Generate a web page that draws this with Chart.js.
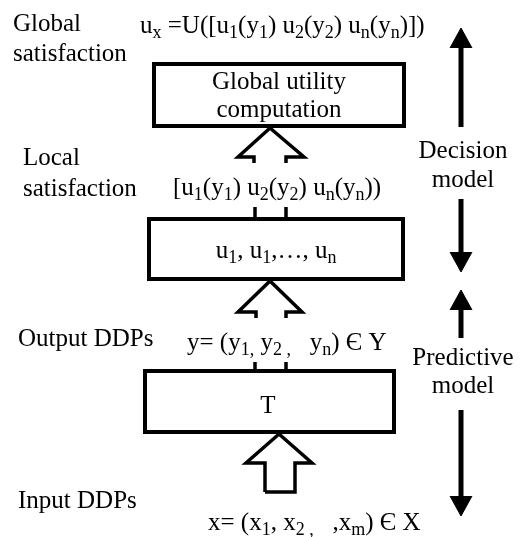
<!DOCTYPE html>
<html>
<head>
<meta charset="utf-8">
<script src="https://cdn.jsdelivr.net/npm/chart.js@4"></script>
<style>
  body { margin: 0; background: #fff; font-family: "Liberation Serif", "Times New Roman", serif; }
  canvas { display: block; }
</style>
</head>
<body>
<canvas id="diagram" width="520" height="537"></canvas>
<script>
// boxes: left, top, right, bottom
const boxes = [
  [154, 64, 404, 126],
  [149, 219, 403, 279],
  [145, 371, 394, 432]
];

// hollow arrows pointing into the boxes
const arrowTop = [[254, 163], [254, 157], [238, 157], [270, 128], [304, 157], [286, 157], [286, 163]];
const arrowMid = [[256, 318], [256, 312], [238, 312], [270, 281], [302, 312], [286, 312], [286, 318]];
const arrowLow = [[265, 492], [265, 463], [246, 463], [279, 434], [312, 463], [295, 463], [295, 492], [265, 492]];

// short stubs where the shafts come out from under the labels
const stubs = [
  [[255, 207], [255, 219]],
  [[286, 207], [286, 219]],
  [[255, 362], [255, 371]],
  [[286, 362], [286, 371]]
];

// solid arrows on the right: x, tail, tip
const sideArrows = [
  [461, 127, 28],
  [461, 199, 272],
  [461, 338, 290],
  [461, 410, 516]
];

// text, x, y, align   (_{...} = subscript)
const labels = [
  ['Global', 13, 23, 'left'],
  ['satisfaction', 13, 53, 'left'],
  ['u_{x} =U([u_{1}(y_{1}) u_{2}(y_{2}) u_{n}(y_{n})])', 140, 25, 'left'],
  ['Global utility', 279, 81, 'center'],
  ['computation', 279, 109, 'center'],
  ['Local', 23, 157, 'left'],
  ['satisfaction', 23, 188, 'left'],
  ['[u_{1}(y_{1}) u_{2}(y_{2}) u_{n}(y_{n}))', 173, 187, 'left'],
  ['Decision', 463, 150, 'center'],
  ['model', 463, 179, 'center'],
  ['u_{1}, u_{1},\u2026, u_{n}', 276, 250, 'center'],
  ['Output DDPs', 18, 338, 'left'],
  ['y= (y_{1,} y_{2 ,}   y_{n}) \u0404 Y', 187, 342, 'left'],
  ['Predictive', 463, 357, 'center'],
  ['model', 463, 385, 'center'],
  ['T', 268, 405, 'center'],
  ['Input DDPs', 18, 500, 'left'],
  ['x= (x_{1}, x_{2 ,}   ,x_{m}) \u0404 X', 208, 522, 'left']
];

const black = '#000';
const mainFont = '25px "Liberation Serif", "Times New Roman", "DejaVu Serif", serif';
const subFont = '18px "Liberation Serif", "Times New Roman", "DejaVu Serif", serif';

function pts(list) {
  return list.map(p => ({ x: p[0], y: p[1] }));
}

function outline(list, width, cap) {
  return {
    data: pts(list),
    showLine: true,
    borderColor: black,
    borderWidth: width,
    borderCapStyle: cap || 'butt',
    borderJoinStyle: 'miter',
    pointRadius: 0,
    fill: false,
    tension: 0
  };
}

const datasets = [];

boxes.forEach(b => {
  const [l, t, r, bt] = b;
  datasets.push(outline([[l, t], [r, t], [r, bt], [l, bt], [l, t]], 4, 'square'));
});

[arrowTop, arrowMid, arrowLow].forEach(a => datasets.push(outline(a, 3.5)));
stubs.forEach(s => datasets.push(outline(s, 3.5)));

sideArrows.forEach(a => {
  const [x, tail, tip] = a;
  const dir = tip < tail ? 1 : -1;
  const base = tip + dir * 20;
  datasets.push(outline([[x, tail], [x, base - dir]], 5));
  datasets.push({
    data: pts([[x - 11, base], [x, tip], [x + 11, base]]),
    showLine: true,
    borderColor: black,
    borderWidth: 1,
    backgroundColor: black,
    pointRadius: 0,
    fill: { value: base },
    tension: 0
  });
});

function parts(text) {
  const out = [];
  const bits = text.split(/_\{([^}]*)\}/);
  bits.forEach((s, i) => { if (s) out.push({ s, sub: i % 2 === 1 }); });
  return out;
}

const textPlugin = {
  id: 'diagramText',
  afterDatasetsDraw(chart) {
    const ctx = chart.ctx;
    const xs = chart.scales.x, ys = chart.scales.y;
    ctx.save();
    ctx.fillStyle = black;
    ctx.textBaseline = 'alphabetic';
    labels.forEach(([text, x, y, align]) => {
      const segs = parts(text);
      let w = 0;
      segs.forEach(p => { ctx.font = p.sub ? subFont : mainFont; p.w = ctx.measureText(p.s).width; w += p.w; });
      let px = xs.getPixelForValue(x);
      if (align === 'center') px -= w / 2;
      const base = ys.getPixelForValue(y) + 8;
      segs.forEach(p => {
        ctx.font = p.sub ? subFont : mainFont;
        ctx.fillText(p.s, px, p.sub ? base + 5 : base);
        px += p.w;
      });
    });
    ctx.restore();
  }
};

function draw() {
  new Chart(document.getElementById('diagram'), {
    type: 'scatter',
    data: { datasets },
    options: {
      responsive: false,
      animation: false,
      layout: { padding: 0 },
      plugins: { legend: { display: false }, tooltip: { enabled: false } },
      scales: {
        x: { type: 'linear', min: 0, max: 520, display: false },
        y: { type: 'linear', min: 0, max: 537, reverse: true, display: false }
      }
    },
    plugins: [textPlugin]
  });
}

Promise.all([
  document.fonts.load(mainFont, 'Global'),
  document.fonts.load(subFont, '1')
]).then(draw, draw);
</script>
</body>
</html>
